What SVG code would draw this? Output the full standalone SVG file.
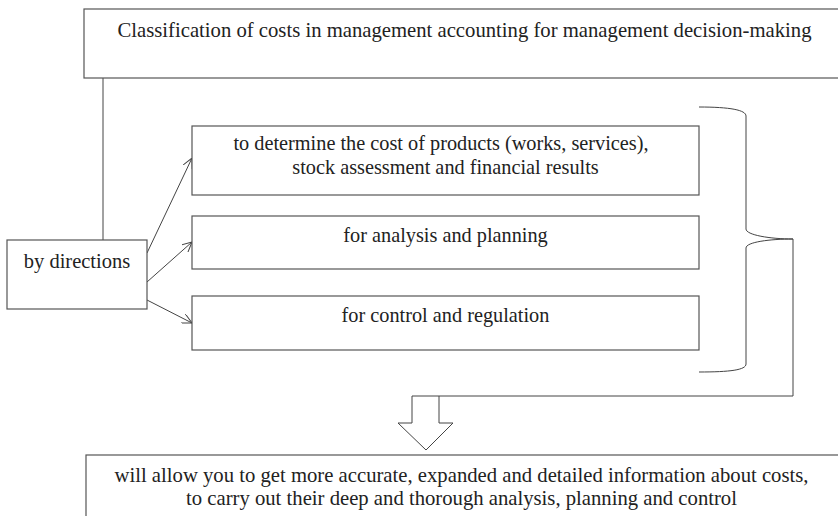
<svg xmlns="http://www.w3.org/2000/svg" width="838" height="516" viewBox="0 0 838 516">
<defs>
<style>
.box{fill:#fff;stroke:#555;stroke-width:1.2}
.ln{fill:none;stroke:#444;stroke-width:1}
.t{font-family:"Liberation Serif","Times New Roman",serif;font-size:20.5px;fill:#222;text-anchor:middle}
.big{font-size:20.7px}
.mid{font-size:20.3px}
</style>
<marker id="ah" viewBox="0 0 10 10" refX="10" refY="5" markerWidth="10" markerHeight="10" markerUnits="userSpaceOnUse" orient="auto">
<path d="M0,0 L10,5 L0,10" fill="none" stroke="#444" stroke-width="1"/>
</marker>
</defs>
<rect width="838" height="516" fill="#fff"/>
<g id="connectors">
<line class="ln" x1="103" y1="78" x2="103" y2="240"/>
<line class="ln" x1="147" y1="253" x2="192" y2="158" marker-end="url(#ah)"/>
<line class="ln" x1="147" y1="282" x2="192" y2="242" marker-end="url(#ah)"/>
<line class="ln" x1="147" y1="300" x2="192" y2="323" marker-end="url(#ah)"/>
<path class="ln" d="M699,107 C730,107 746,110 746,116 L746,229 C746,235 770,239 793,239 C770,239 746,242 746,248 L746,364 C746,370 730,372 699,372"/>
<polyline class="ln" points="793,239 793,396 439,396"/>
<path class="ln" d="M412,396 L439,396 L439,423 L453,423 L426,450 L398,423 L412,423 Z" fill="#fff"/>
</g>
<g id="title">
<rect class="box" x="84" y="9" width="760" height="69"/>
<text class="t big" x="464.5" y="37">Classification of costs in management accounting for management decision-making</text>
</g>
<g id="by-directions">
<rect class="box" x="7" y="240" width="140" height="69"/>
<text class="t" x="77" y="268">by directions</text>
</g>
<g id="dir1">
<rect class="box" x="192" y="126" width="507" height="69"/>
<text class="t mid" x="441" y="150">to determine the cost of products (works, services),</text>
<text class="t mid" x="445.5" y="174">stock assessment and financial results</text>
</g>
<g id="dir2">
<rect class="box" x="192" y="216" width="507" height="53"/>
<text class="t mid" x="445.5" y="242">for analysis and planning</text>
</g>
<g id="dir3">
<rect class="box" x="192" y="296" width="507" height="54"/>
<text class="t mid" x="445.5" y="322">for control and regulation</text>
</g>
<g id="result">
<rect class="box" x="86" y="455" width="760" height="70"/>
<text class="t big" x="461.5" y="482">will allow you to get more accurate, expanded and detailed information about costs,</text>
<text class="t big" x="461.5" y="505">to carry out their deep and thorough analysis, planning and control</text>
</g>
</svg>
